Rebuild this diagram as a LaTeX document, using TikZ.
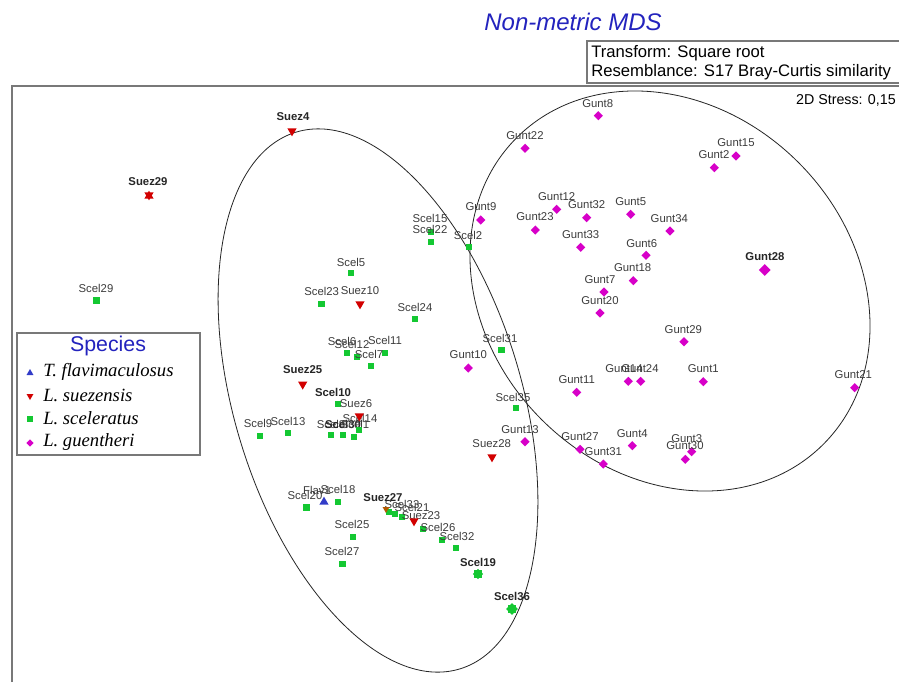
\documentclass[tikz,border=0pt]{standalone}
\usepackage{fontspec}
\setmainfont{Liberation Sans}
\newfontfamily\serifit{Liberation Serif}
\usetikzlibrary{shapes.geometric}
\definecolor{mdsgreen}{RGB}{20,200,50}
\definecolor{mdsmag}{RGB}{215,0,200}
\definecolor{mdsred}{RGB}{210,0,0}
\definecolor{mdsblue}{RGB}{50,60,200}
\definecolor{titleblue}{RGB}{35,35,190}
\definecolor{labgray}{RGB}{60,60,60}
\definecolor{framegray}{RGB}{120,120,120}
\newcommand\mdspt[7]{\node[#1] (#2) at (#3,#4) {}; \node[lab] (#2l) at (#5,#6) {#7};}
\newcommand\mdsptb[7]{\node[#1] (#2) at (#3,#4) {}; \node[labb] (#2l) at (#5,#6) {#7};}
\begin{document}
\begin{tikzpicture}[x=0.75pt,y=-0.75pt,
 sq/.style={rectangle, fill=mdsgreen, minimum size=5.2pt, inner sep=0pt},
 dia/.style={diamond, fill=mdsmag, minimum size=7pt, inner sep=0pt},
 tdn/.style={regular polygon, regular polygon sides=3, shape border rotate=180, fill=mdsred, minimum size=8pt, inner sep=0pt},
 tup/.style={regular polygon, regular polygon sides=3, fill=mdsblue, minimum size=8pt, inner sep=0pt},
 lab/.style={font=\fontsize{8.5}{9}\selectfont, text=labgray, inner sep=0pt},
 labb/.style={font=\fontsize{8.5}{9}\selectfont\bfseries, text=black!85, inner sep=0pt},
 ell/.style={draw=black!85, line width=0.6pt},
 frame/.style={draw=framegray, line width=1.1pt},
 legtxt/.style={anchor=west, font=\serifit\itshape\fontsize{14}{16}\selectfont, inner sep=0pt}]
\fill[white] (0,0) rectangle (899,682);
\useasboundingbox (0,0) rectangle (899,682);
% title and header
\node[font=\fontsize{18}{20}\selectfont\itshape, text=titleblue] (title) at (573,22) {Non-metric MDS};
\draw[frame, line width=0.9pt] (899,41) -- (587,41) -- (587,83) -- (899,83);
\node[anchor=west, font=\fontsize{12.5}{14}\selectfont, inner sep=0pt] (tr) at (591,53) {Transform: Square root};
\node[anchor=west, font=\fontsize{12.5}{14}\selectfont, inner sep=0pt] (rs) at (591,72) {Resemblance: S17 Bray-Curtis similarity};
% plot frame
\draw[frame] (12,682) -- (12,86) -- (899,86);
\node[anchor=east, font=\fontsize{10.7}{12}\selectfont, inner sep=0pt] (stress) at (896,100) {2D Stress: 0,15};
% ellipses
\draw[ell] [rotate around={17:(378,400.5)}] (378,400.5) ellipse [x radius=143.5, y radius=280.6];
\draw[ell] [rotate around={-45:(670,291)}] (670,291) ellipse [x radius=216.8, y radius=181.7];
% legend
\draw[frame, line width=1pt] (17,333) rectangle (200,455);
\node[font=\fontsize{16}{18}\selectfont, text=titleblue] (spec) at (108,346) {Species};
\node[tup, minimum size=6pt] (lg1) at (30,373) {};
\node[legtxt] (lt1) at (43,372) {T. flavimaculosus};
\node[tdn, minimum size=6pt] (lg2) at (30,396) {};
\node[legtxt] (lt2) at (43,395) {L. suezensis};
\node[sq, minimum size=4pt] (lg3) at (30,419) {};
\node[legtxt] (lt3) at (43,418) {L. sceleratus};
\node[dia, minimum size=5.5pt] (lg4) at (30,443) {};
\node[legtxt] (lt4) at (43,442) {L. guentheri};
% L. sceleratus (green)
\mdspt{sq}{c29}{96.5}{300.5}{96}{288}{Scel29}
\mdspt{sq}{c15}{431}{232}{430}{218}{Scel15}
\mdspt{sq}{c22}{431}{242}{430}{229}{Scel22}
\mdspt{sq}{c2}{469}{247}{468}{235}{Scel2}
\mdspt{sq}{c5}{351}{273}{351}{262}{Scel5}
\mdspt{sq}{c23}{321.7}{304}{321.7}{291}{Scel23}
\mdspt{sq}{c24}{415}{319}{415}{307}{Scel24}
\mdspt{sq}{c6}{347}{353}{342}{341}{Scel6}
\mdspt{sq}{c12}{357}{357}{352}{344}{Scel12}
\mdspt{sq}{c11}{385}{353}{385}{340}{Scel11}
\mdspt{sq}{c7}{371}{366}{369}{354}{Scel7}
\mdspt{sq}{c31}{501.7}{350}{500}{338}{Scel31}
\mdsptb{sq}{c10}{338}{404}{333}{392}{Scel10}
\mdspt{sq}{c9}{260}{436}{258}{423}{Scel9}
\mdspt{sq}{c13}{288}{433}{288}{421}{Scel13}
\mdspt{sq}{c8}{331}{435}{331}{424}{Scel8}
\mdsptb{sq}{c30}{343}{435}{343}{424}{Scel30}
\mdspt{sq}{c1}{354}{437}{355}{424}{Scel1}
\mdspt{sq}{c14}{359}{430}{360}{418}{Scel14}
\mdspt{sq}{c35}{516}{408}{513}{397}{Scel35}
\mdspt{sq}{c18}{338}{502}{338}{489}{Scel18}
\mdspt{sq}{c20}{306.7}{507.3}{305}{495}{Scel20}
\mdspt{sq}{c25}{353}{537}{352}{524}{Scel25}
\mdspt{sq}{c27}{342.7}{564}{342}{551}{Scel27}
\mdspt{sq}{c33}{395}{514}{402}{504}{Scel33}
\mdspt{sq}{c21}{402}{517}{412}{507}{Scel21}
\mdspt{sq}{c34}{423}{529}{421}{516}{Suez23}
\mdspt{sq}{c26}{442}{540}{438}{527}{Scel26}
\mdspt{sq}{c32}{456}{548}{457}{536}{Scel32}
\node[dia, fill=mdsgreen, minimum size=8pt] (c19b) at (478,574) {};
\mdsptb{sq, minimum size=6pt}{c19}{478}{574}{478}{562}{Scel19}
\node[dia, fill=mdsgreen, minimum size=9pt] (c36b) at (512,609) {};
\mdsptb{sq, minimum size=6pt}{c36}{512}{609}{512}{596}{Scel36}
\node[sq] (c37) at (389,512) {};
% L. suezensis (red)
\node[tup, fill=mdsred] (s29b) at (149,196) {};
\mdsptb{tdn}{s29}{149}{195}{148}{182}{Suez29}
\mdsptb{tdn}{s4}{292}{131}{293}{117}{Suez4}
\mdspt{tdn}{s10}{360}{304}{360}{291}{Suez10}
\mdsptb{tdn}{s25}{302.7}{384.3}{302.7}{370}{Suez25}
\mdspt{tdn}{s6}{359.3}{416}{356}{404}{Suez6}
\mdspt{tdn}{s28}{492}{457}{491.7}{444}{Suez28}
\mdspt{tdn}{s30}{414}{521}{420}{517}{}
\mdsptb{tdn, fill=orange!70!black, minimum size=6pt}{s27}{386}{509}{383}{498}{Suez27}
% T. flavimaculosus (blue)
\mdspt{tup}{f1}{324}{502}{317}{490}{Flav1}
% L. guentheri (magenta)
\mdspt{dia}{g8}{598.3}{115.7}{597.7}{103.3}{Gunt8}
\mdspt{dia}{g22}{525}{148.3}{525}{136}{Gunt22}
\mdspt{dia}{g15}{736}{156}{736}{143}{Gunt15}
\mdspt{dia}{g2}{714.3}{167.7}{714}{155}{Gunt2}
\mdspt{dia}{g9}{480.7}{220}{481}{207}{Gunt9}
\mdspt{dia}{g12}{556.7}{209.3}{556.7}{197}{Gunt12}
\mdspt{dia}{g23}{535.3}{230}{535}{217}{Gunt23}
\mdspt{dia}{g32}{586.7}{217.7}{586.7}{205}{Gunt32}
\mdspt{dia}{g5}{630.7}{214.3}{630.7}{202}{Gunt5}
\mdspt{dia}{g34}{670}{231}{669.3}{218.7}{Gunt34}
\mdspt{dia}{g33}{580.7}{247.3}{580.7}{235}{Gunt33}
\mdspt{dia}{g6}{646}{255.3}{641.7}{243.3}{Gunt6}
\mdspt{dia}{g18}{633.3}{280.7}{632.7}{267.3}{Gunt18}
\mdspt{dia}{g7}{604}{292}{600}{279.3}{Gunt7}
\mdspt{dia}{g20}{600}{313}{600}{301}{Gunt20}
\mdsptb{dia, minimum size=9pt}{g28}{764.7}{270}{765}{257}{Gunt28}
\mdspt{dia}{g29}{684}{341.7}{683.3}{329.3}{Gunt29}
\mdspt{dia}{g10}{468.3}{368}{468.3}{355}{Gunt10}
\mdspt{dia}{g11}{576.7}{392.3}{576.7}{379.3}{Gunt11}
\mdspt{dia}{g14}{628.3}{381.3}{624}{368.7}{Gunt14}
\mdspt{dia}{g24}{640.7}{381.3}{640}{368.7}{Gunt24}
\mdspt{dia}{g1}{703.3}{381.7}{703.3}{368.7}{Gunt1}
\mdspt{dia}{g21}{854.7}{387.7}{853.3}{375}{Gunt21}
\mdspt{dia}{g13}{525}{441.7}{520}{429.3}{Gunt13}
\mdspt{dia}{g27}{580}{449.3}{580}{436.7}{Gunt27}
\mdspt{dia}{g31}{603.3}{464}{603.3}{451.7}{Gunt31}
\mdspt{dia}{g4}{632.3}{445.7}{632.3}{433.3}{Gunt4}
\mdspt{dia}{g3}{691.7}{451.7}{686.7}{438.3}{Gunt3}
\mdspt{dia}{g30}{685.3}{459.3}{685}{446}{Gunt30}
\end{tikzpicture}
\end{document}
